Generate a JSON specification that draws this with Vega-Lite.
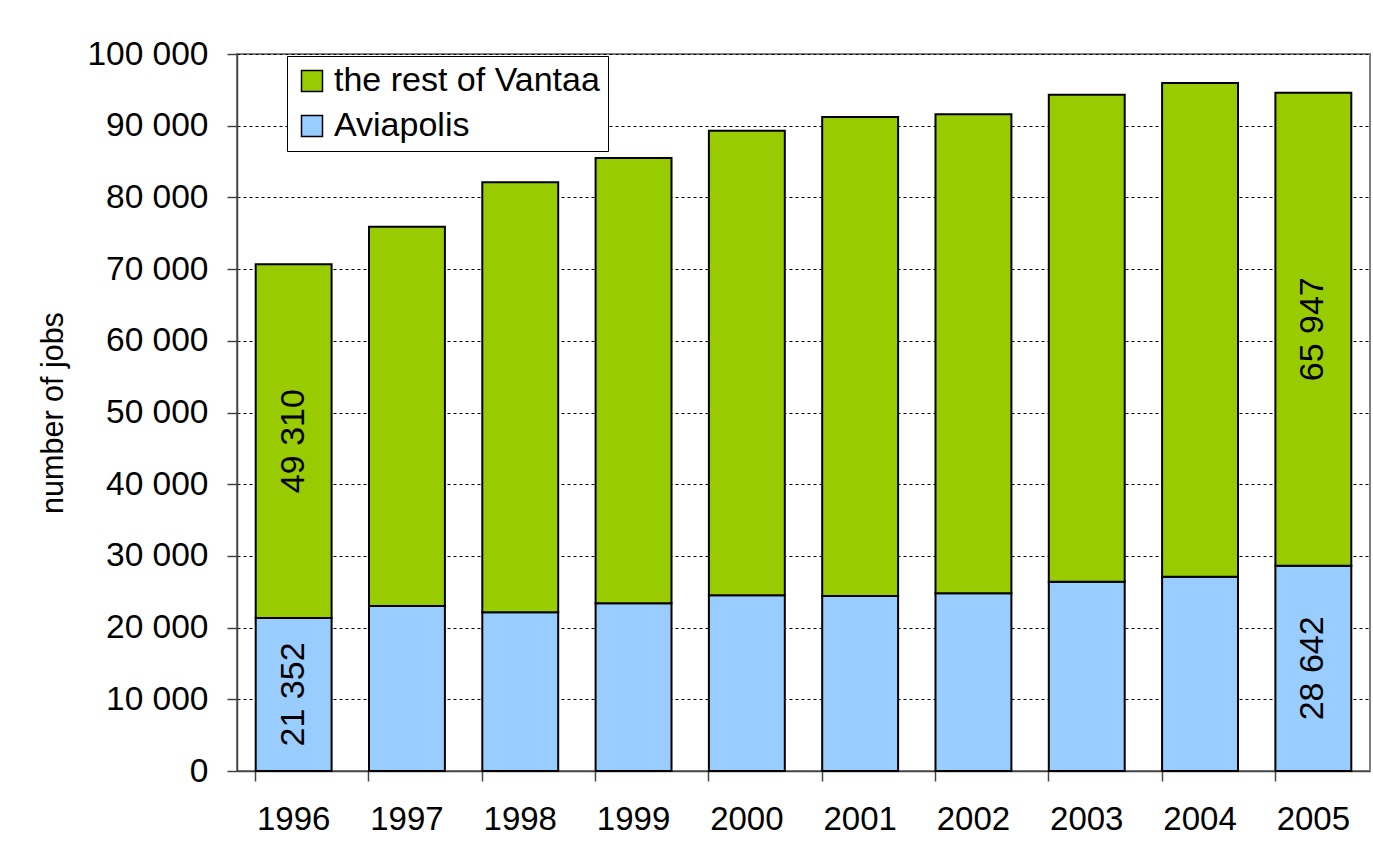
{
  "$schema": "https://vega.github.io/schema/vega-lite/v6.json",
  "width": 1133,
  "height": 717,
  "autosize": {"type": "none"},
  "padding": {"left": 237, "top": 54, "right": 3, "bottom": 86},
  "background": "white",
  "config": {
    "font": "Liberation Sans",
    "locale": {"number": {"decimal": ".", "thousands": " ", "grouping": [3], "currency": ["", ""]}},
    "view": {"stroke": "#808080", "strokeWidth": 2}
  },
  "data": {
    "values": [
      {"year": "1996", "series": "Aviapolis", "jobs": 21352},
      {"year": "1996", "series": "the rest of Vantaa", "jobs": 49310},
      {"year": "1997", "series": "Aviapolis", "jobs": 23000},
      {"year": "1997", "series": "the rest of Vantaa", "jobs": 52900},
      {"year": "1998", "series": "Aviapolis", "jobs": 22150},
      {"year": "1998", "series": "the rest of Vantaa", "jobs": 59950},
      {"year": "1999", "series": "Aviapolis", "jobs": 23400},
      {"year": "1999", "series": "the rest of Vantaa", "jobs": 62100},
      {"year": "2000", "series": "Aviapolis", "jobs": 24500},
      {"year": "2000", "series": "the rest of Vantaa", "jobs": 64800},
      {"year": "2001", "series": "Aviapolis", "jobs": 24400},
      {"year": "2001", "series": "the rest of Vantaa", "jobs": 66800},
      {"year": "2002", "series": "Aviapolis", "jobs": 24800},
      {"year": "2002", "series": "the rest of Vantaa", "jobs": 66800},
      {"year": "2003", "series": "Aviapolis", "jobs": 26400},
      {"year": "2003", "series": "the rest of Vantaa", "jobs": 67900},
      {"year": "2004", "series": "Aviapolis", "jobs": 27100},
      {"year": "2004", "series": "the rest of Vantaa", "jobs": 68850},
      {"year": "2005", "series": "Aviapolis", "jobs": 28642},
      {"year": "2005", "series": "the rest of Vantaa", "jobs": 65947}
    ]
  },
  "layer": [
    {
      "mark": {"type": "bar", "stroke": "black", "strokeWidth": 2},
      "encoding": {
        "x": {
          "field": "year", "type": "ordinal",
          "scale": {"paddingInner": 0.33, "paddingOuter": 0.165},
          "axis": {
            "title": null,
            "labelAngle": 0,
            "labelFontSize": 33,
            "labelColor": "black",
            "labelPadding": 22,
            "bandPosition": 0,
            "tickSize": 10,
            "tickColor": "#444",
            "tickWidth": 1.5,
            "domainColor": "#444",
            "domainWidth": 1.5,
            "grid": false
          }
        },
        "y": {
          "field": "jobs", "type": "quantitative",
          "stack": "zero",
          "scale": {"domain": [0, 100000], "nice": false},
          "axis": {
            "title": "number of jobs",
            "titleFontSize": 30.5,
            "titleFontWeight": "normal",
            "titleColor": "black",
            "titlePadding": 18,
            "values": [0, 10000, 20000, 30000, 40000, 50000, 60000, 70000, 80000, 90000, 100000],
            "format": ",d",
            "labelFontSize": 33.5,
            "labelColor": "black",
            "labelPadding": 19,
            "tickSize": 10,
            "tickColor": "#444",
            "tickWidth": 1.5,
            "domainColor": "#444",
            "domainWidth": 1.5,
            "grid": true,
            "gridColor": "black",
            "gridDash": [3, 3],
            "gridWidth": 1
          }
        },
        "color": {
          "field": "series", "type": "nominal",
          "scale": {"domain": ["the rest of Vantaa", "Aviapolis"], "range": ["#99CC00", "#99CCFF"]},
          "legend": {
            "title": null,
            "orient": "none",
            "legendX": 50,
            "legendY": 2,
            "symbolType": "square",
            "symbolSize": 441,
            "symbolStrokeColor": "black",
            "symbolStrokeWidth": 1.5,
            "symbolOpacity": 1,
            "labelFontSize": 34,
            "labelColor": "black",
            "labelOffset": 5,
            "labelLimit": 400,
            "rowPadding": 11,
            "padding": 8,
            "fillColor": "white",
            "strokeColor": "black"
          }
        },
        "order": {"field": "series", "sort": "ascending"}
      }
    },
    {
      "transform": [
        {"stack": "jobs", "groupby": ["year"], "sort": [{"field": "series", "order": "ascending"}], "as": ["y0", "y1"]},
        {"filter": "datum.year == '1996' || datum.year == '2005'"},
        {"calculate": "(datum.y0 + datum.y1) / 2", "as": "mid"}
      ],
      "mark": {"type": "text", "angle": 270, "fontSize": 34, "color": "black", "align": "center", "baseline": "middle"},
      "encoding": {
        "x": {"field": "year", "type": "ordinal"},
        "y": {"field": "mid", "type": "quantitative"},
        "text": {"field": "jobs", "type": "quantitative", "format": ",d"}
      }
    }
  ]
}
